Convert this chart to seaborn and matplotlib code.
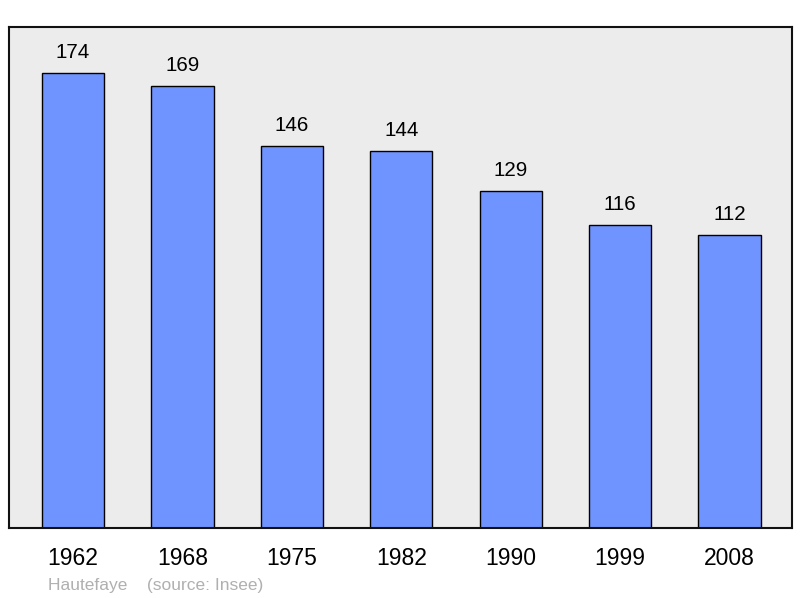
import matplotlib.pyplot as plt
import seaborn as sns
import pandas as pd

annees = ['1962', '1968', '1975', '1982', '1990', '1999', '2008']
population = [174, 169, 146, 144, 129, 116, 112]

sns.set_theme(style='white')
plt.rcParams['font.family'] = ['Liberation Sans', 'DejaVu Sans']

df = pd.DataFrame({'annee': annees, 'pop': population})

fig = plt.figure(figsize=(8, 5.98), dpi=100)
ax = fig.add_axes([9 / 800, 70 / 598, 783 / 800, 501 / 598])
ax.set_facecolor('#ececec')

sns.barplot(data=df, x='annee', y='pop', order=annees, color='#7094ff',
            saturation=1, width=0.57, edgecolor='black', linewidth=1, ax=ax)

# étiquettes de valeur au-dessus des barres
for i, v in enumerate(population):
    ax.annotate(str(v), (i, v), xytext=(0, 10.8), textcoords='offset points',
                ha='center', va='baseline', fontsize=14.8, color='black')

ax.set_xlim(-0.585, 6.571)
ax.set_ylim(0, 191.6)
ax.set_yticks([])
ax.set_xlabel('')
ax.set_ylabel('')
ax.tick_params(axis='x', length=0, pad=14, labelsize=16.5, labelcolor='black')
for s in ax.spines.values():
    s.set_visible(True)
    s.set_color('#111111')
    s.set_linewidth(1.5)

fig.text(48 / 800, 8 / 598, 'Hautefaye    (source: Insee)', fontsize=12.5,
         color='#b0b0b0', va='baseline', ha='left')

fig.savefig('out.png', dpi=100)
